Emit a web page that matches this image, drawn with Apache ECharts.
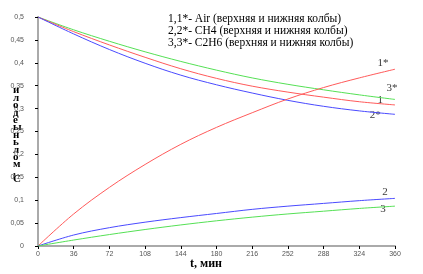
<!DOCTYPE html>
<html><head><meta charset="utf-8">
<script src="https://cdn.jsdelivr.net/npm/echarts@6/dist/echarts.min.js"></script>
<style>html,body{margin:0;padding:0;background:#fff}#c{width:423px;height:274px}</style>
</head><body><div id="c"></div>
<script>
var times = [0, 36, 72, 108, 144, 180, 216, 252, 288, 324, 360];
var xTicks = [0, 36, 72, 108, 144, 180, 216, 252, 288, 324, 360];
var yTicks = [0, 0.05, 0.1, 0.15, 0.2, 0.25, 0.3, 0.35, 0.4, 0.45, 0.5];
var airUpper  = [0.5, 0.468, 0.439, 0.412, 0.387, 0.366, 0.349, 0.336, 0.325, 0.315, 0.308];
var airLower  = [0, 0.070, 0.128, 0.178, 0.222, 0.259, 0.291, 0.321, 0.346, 0.367, 0.386];
var ch4Upper  = [0.5, 0.463, 0.429, 0.399, 0.373, 0.352, 0.334, 0.318, 0.305, 0.295, 0.2875];
var ch4Lower  = [0, 0.024, 0.040, 0.052, 0.062, 0.071, 0.080, 0.087, 0.093, 0.099, 0.104];
var c2h6Upper = [0.5, 0.472, 0.447, 0.424, 0.403, 0.384, 0.367, 0.353, 0.341, 0.330, 0.320];
var c2h6Lower = [0, 0.013, 0.025, 0.036, 0.046, 0.055, 0.063, 0.070, 0.076, 0.082, 0.087];
var legendLines = ['1,1*- Air (верхняя и нижняя колбы)', '2,2*- CH4 (верхняя и нижняя колбы)', '3,3*- C2H6 (верхняя и нижняя колбы)'];
var yTitle = ['и','л','о','д','е','ы','н','ь','л','о','м',',','С'];
var xTitle = 't, мин';
var curveLabels = [
  {text:'1*', t:348, v:0.40},
  {text:'3*', t:357, v:0.345},
  {text:'1',  t:345, v:0.318},
  {text:'2*', t:340, v:0.285},
  {text:'2',  t:350, v:0.118},
  {text:'3',  t:348, v:0.080}
];
var RED='#ff5a5a', GREEN='#55e055', BLUE='#4a4aff';
function pts(arr){ return times.map(function(t,i){return [t, arr[i]];}); }
function line(arr, color){
  return {type:'line', data:pts(arr), smooth:0.35, symbol:'none',
    lineStyle:{color:color, width:1}, silent:true, animation:false};
}
var chart = echarts.init(document.getElementById('c'));
var series = [line(c2h6Upper,GREEN), line(airUpper,RED), line(ch4Upper,BLUE),
              line(airLower,RED), line(ch4Lower,BLUE), line(c2h6Lower,GREEN)];
series.push({type:'scatter', data:curveLabels.map(function(d){return {value:[d.t,d.v], name:d.text};}),
  symbolSize:0, silent:true, animation:false,
  label:{show:true, position:'inside', formatter:function(p){return p.name;},
    color:'#000', fontFamily:'Liberation Serif', fontSize:11}});
chart.setOption({
  animation:false,
  grid:{left:38, right:28, top:17, bottom:28},
  xAxis:{type:'value', min:0, max:360, interval:36,
    axisLine:{show:true, lineStyle:{color:'#aaaaaa', width:2}},
    axisTick:{show:true, inside:false, length:3, lineStyle:{color:'#000'}},
    splitLine:{show:false},
    axisLabel:{color:'#555', fontSize:7, fontFamily:'Liberation Sans', margin:5,
      formatter:function(v){return xTicks.indexOf(v)>=0?String(v):'';}}},
  yAxis:{type:'value', min:0, max:0.5, interval:0.05,
    axisLine:{show:true, lineStyle:{color:'#aaaaaa', width:2}},
    axisTick:{show:true, length:3, lineStyle:{color:'#000'}},
    splitLine:{show:false},
    axisLabel:{color:'#555', fontSize:7, fontFamily:'Liberation Sans', margin:14,
      formatter:function(v){var s=String(Math.round(v*100)/100).replace('.',',');return s;}}},
  graphic:[
    {type:'text', left:168, top:13, style:{text:legendLines.join('\n'), lineHeight:12,
      font:'11.5px "Liberation Serif"', fill:'#000'}},
    {type:'text', left:13, top:85, style:{text:yTitle.join('\n'), lineHeight:7.4,
      font:'bold 11px "Liberation Serif"', fill:'#000', align:'left'}},
    {type:'text', left:190, top:258, style:{text:xTitle, font:'bold 12px "Liberation Serif"', fill:'#000'}}
  ],
  series:series
});
</script></body></html>
